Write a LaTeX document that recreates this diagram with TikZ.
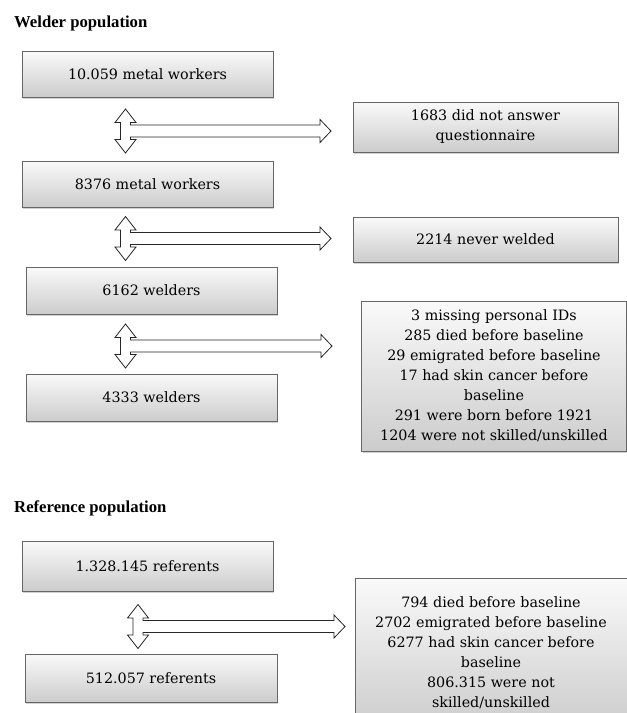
\documentclass[tikz,border=0pt]{standalone}
\usepackage{fontspec}
\setmainfont{Liberation Serif}
\newfontfamily\boxfont{DejaVu Serif}
\usetikzlibrary{shadows}

\newcommand{\forkarrow}[3]{%
  \draw[fork] (#1,#2-22) -- (#1+10.5,#2-8.5) -- (#1+5,#2-8.5) -- (#1+5,#2-6)
    -- (#3-11,#2-6) -- (#3-11,#2-11.5) -- (#3,#2) -- (#3-11,#2+11.5)
    -- (#3-11,#2+6) -- (#1+5,#2+6) -- (#1+5,#2+8.5) -- (#1+10.5,#2+8.5)
    -- (#1,#2+22) -- (#1-10.5,#2+8.5) -- (#1-5,#2+8.5) -- (#1-5,#2-8.5)
    -- (#1-10.5,#2-8.5) -- cycle;}

\begin{document}
\begin{tikzpicture}[x=1pt,y=-1pt,
    box/.style={draw=black!60, line width=0.7pt, top color=black!2, bottom color=black!20,
      drop shadow={shadow xshift=1.2pt, shadow yshift=-1.5pt, opacity=0.35},
      minimum width=251pt, minimum height=46pt, inner sep=0pt, align=center,
      font=\boxfont\fontsize{14.3}{20}\selectfont},
    sidebox/.style={box, minimum width=265pt},
    title/.style={anchor=base west, inner sep=0pt, font=\bfseries\fontsize{16.7}{20}\selectfont},
    fork/.style={draw=black!85, line width=0.8pt, fill=white, line join=miter}]
            \clip (0,0) rectangle (627,713);
            \fill[white] (0,0) rectangle (627,713);

            \node[title] (wtitle) at (14,27) {Welder population};
            \node[box] (w1) at (147.5,74) {10.059 metal workers};
            \node[box] (w2) at (147.5,184.5) {8376 metal workers};
            \node[box, minimum height=47pt] (w3) at (151.5,290.5) {6162 welders};
            \node[box, minimum height=47pt] (w4) at (151.5,397.5) {4333 welders};

            \node[sidebox, minimum height=50pt] (x1) at (485.5,127) {1683 did not answer\\questionnaire};
            \node[sidebox, minimum height=45pt] (x2) at (485.5,239.5) {2214 never welded};
            \node[sidebox, minimum height=150pt] (x3) at (494,376) {3 missing personal IDs\\285 died before baseline\\29 emigrated before baseline\\17 had skin cancer before\\baseline\\291 were born before 1921\\1204 were not skilled/unskilled};

            \forkarrow{125.5}{131}{331}
            \forkarrow{125.5}{238.5}{331}
            \forkarrow{125.5}{346}{332}

            \node[title] (rtitle) at (14,512) {Reference population};
            \node[box, minimum height=50pt] (r1) at (147.5,566) {1.328.145 referents};
            \node[box, minimum width=252pt, minimum height=48pt] (r2) at (151,678) {512.057 referents};
            \node[sidebox, minimum width=272pt, minimum height=150pt] (y1) at (491,653) {794 died before baseline\\2702 emigrated before baseline\\6277 had skin cancer before\\baseline\\806.315 were not\\skilled/unskilled};

            \forkarrow{138}{626.5}{345}
        \end{tikzpicture}
\end{document}
